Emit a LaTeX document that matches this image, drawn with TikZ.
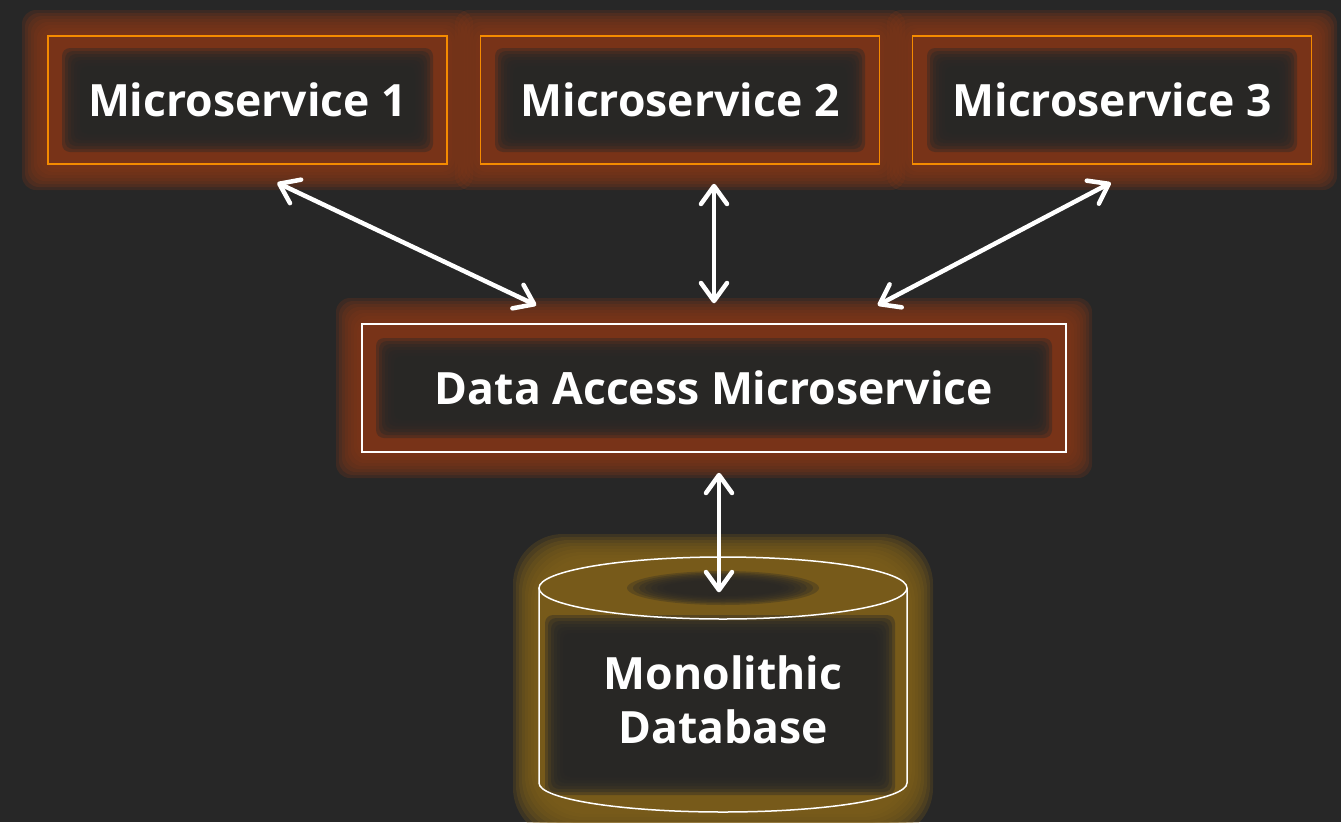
\documentclass[tikz,border=0pt]{standalone}
\usepackage{fontspec}
\setmainfont{Open Sans}
\usetikzlibrary{arrows.meta,calc}
\definecolor{bg}{HTML}{272727}
\definecolor{glowO}{HTML}{813618}
\definecolor{glowY}{HTML}{80601A}
\definecolor{borderO}{HTML}{F58B00}
\newcommand\myglow[6]{% x1,y1,x2,y2,color,corner
  \foreach \d in {26,23,...,2}{\fill[#5,opacity=0.25,rounded corners=#6] (#1-\d,#2-\d) rectangle (#3+\d,#4+\d);}}
\newcommand\mycore[4]{%
  \foreach \d in {0,3,...,18}{\fill[bg,opacity=0.4,rounded corners=8pt] (#1+\d,#2+\d) rectangle (#3-\d,#4-\d);}}
\begin{document}
\begin{tikzpicture}[x=1pt,y=-1pt,
  lbl/.style={text=white,font=\bfseries\fontsize{44.5}{54}\selectfont},
  msbox/.style={draw=borderO,line width=1.5pt,minimum width=399pt,minimum height=128pt,inner sep=0pt,lbl},
  dabox/.style={draw=white,line width=1.5pt,minimum width=704pt,minimum height=128pt,inner sep=0pt,lbl},
  dbshape/.style={minimum width=368pt,minimum height=255pt,inner sep=0pt},
  arr/.style={white,line width=4.5pt,line cap=round,
    {Straight Barb[length=18pt,width=26pt,round]}-{Straight Barb[length=18pt,width=26pt,round]}}]
\useasboundingbox (0,0) rectangle (1341,822);
\fill[bg] (0,0) rectangle (1341,822);
% glows
\myglow{48}{36}{447}{164}{glowO}{14pt}
\myglow{481}{36}{879}{164}{glowO}{14pt}
\myglow{913}{36}{1311}{164}{glowO}{14pt}
\myglow{362}{324}{1066}{452}{glowO}{14pt}
\myglow{539}{560}{907}{812}{glowY}{50pt}
\mycore{62}{48}{433}{152}
\mycore{495}{48}{865}{152}
\mycore{927}{48}{1297}{152}
\mycore{376}{338}{1052}{438}
\mycore{545}{615}{895}{795}
\foreach \r in {0,1,...,6}{\fill[bg,opacity=0.3] (723,588) ellipse[x radius={96pt-6pt*\r},y radius={17pt-1.5pt*\r}];}
% nodes
\node[msbox] (ms1) at (247.5,100) {Microservice 1};
\node[msbox] (ms2) at (680,100) {Microservice 2};
\node[msbox] (ms3) at (1112,100) {Microservice 3};
\node[dabox] (dam) at (714,388) {Data Access Microservice};
\node[dbshape] (db) at (723,686) {};
\draw[white,line width=1.5pt] (db.center) ++(0,-98) ellipse[x radius=184pt,y radius=31pt];
\draw[white,line width=1.5pt] (539,588) -- (539,783) arc[start angle=180,end angle=360,x radius=184pt,y radius=29pt] -- (907,588);
\node[lbl,align=center] (dbtext) at (723,700) {Monolithic\\Database};
% arrows
\draw[arr] ([shift={(230,18)}]ms1.south west) -- ([shift={(175,-18)}]dam.north west);
\draw[arr] ([shift={(34,19)}]ms2.south) -- ([shift={(0,-20)}]dam.north);
\draw[arr] ([shift={(199,18)}]ms3.south west) -- ([shift={(-189,-18)}]dam.north east);
\draw[arr] ([shift={(5,20)}]dam.south) -- ([shift={(-4,34)}]db.north);
\end{tikzpicture}
\end{document}
